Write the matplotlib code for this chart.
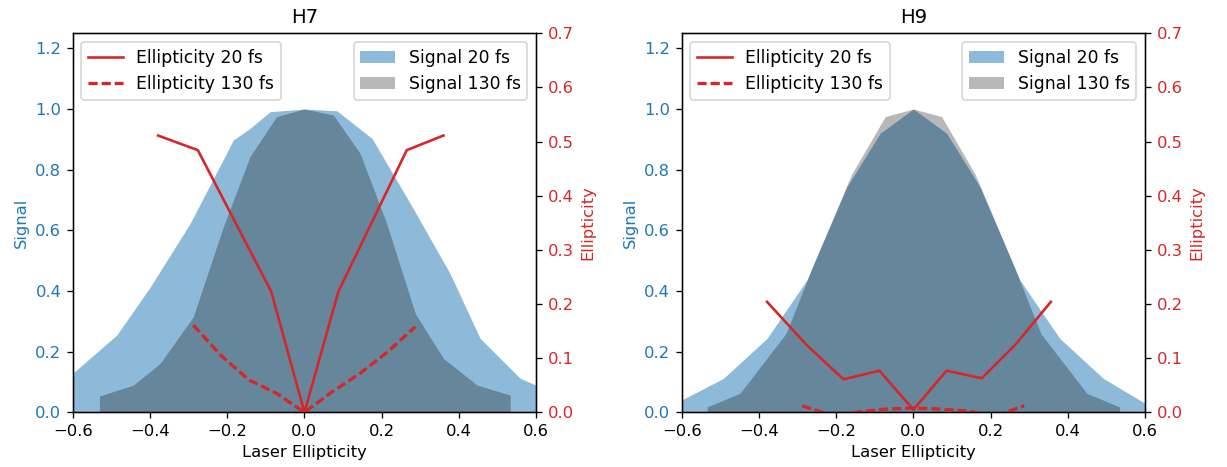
import numpy as np
import matplotlib
matplotlib.use("Agg")
import matplotlib.pyplot as plt

# ---- H7 data ----
h7_sig20_x = [-0.64, -0.6, -0.486, -0.399, -0.296, -0.184, -0.141, -0.089, 0.0,
              0.084, 0.175, 0.274, 0.377, 0.455, 0.559, 0.6, 0.64]
h7_sig20_y = [0.08, 0.129, 0.255, 0.414, 0.623, 0.898, 0.936, 0.991, 1.0,
              0.994, 0.903, 0.689, 0.458, 0.244, 0.112, 0.09, 0.06]
h7_sig130_x = [-0.531, -0.443, -0.374, -0.288, -0.21, -0.141, -0.072, 0.0,
               0.075, 0.144, 0.213, 0.287, 0.36, 0.447, 0.533]
h7_sig130_y = [0.054, 0.09, 0.161, 0.315, 0.612, 0.843, 0.975, 1.0,
               0.98, 0.854, 0.623, 0.326, 0.178, 0.09, 0.057]
h7_ell20_x = [-0.379, -0.276, -0.086, 0.0, 0.088, 0.265, 0.36]
h7_ell20_y = [0.511, 0.484, 0.223, 0.0, 0.223, 0.484, 0.511]
h7_ell130_x = [-0.288, -0.216, -0.144, -0.072, 0.0, 0.072, 0.144, 0.216, 0.287]
h7_ell130_y = [0.161, 0.105, 0.060, 0.035, 0.0, 0.038, 0.072, 0.112, 0.158]

# ---- H9 data ----
h9_sig20_x = [-0.64, -0.6, -0.492, -0.379, -0.276, -0.172, -0.086, 0.0,
              0.086, 0.172, 0.276, 0.379, 0.492, 0.6, 0.64]
h9_sig20_y = [0.02, 0.041, 0.112, 0.244, 0.436, 0.744, 0.92, 1.0,
              0.92, 0.744, 0.436, 0.244, 0.112, 0.03, 0.02]
h9_sig130_x = [-0.534, -0.449, -0.33, -0.258, -0.16, -0.073, 0.0,
               0.073, 0.16, 0.258, 0.33, 0.449, 0.534]
h9_sig130_y = [0.018, 0.063, 0.26, 0.49, 0.785, 0.975, 1.0,
               0.975, 0.785, 0.49, 0.26, 0.063, 0.018]
h9_ell20_x = [-0.379, -0.276, -0.181, -0.088, 0.0, 0.086, 0.177, 0.263, 0.356]
h9_ell20_y = [0.204, 0.124, 0.061, 0.077, 0.005, 0.077, 0.063, 0.124, 0.204]
h9_ell130_x = [-0.288, -0.21, -0.14, -0.072, 0.0, 0.072, 0.144, 0.213, 0.287]
h9_ell130_y = [0.012, -0.006, 0.001, 0.006, 0.008, 0.006, 0.002, -0.006, 0.012]

panels = [
    ("H7", h7_sig20_x, h7_sig20_y, h7_sig130_x, h7_sig130_y,
     h7_ell20_x, h7_ell20_y, h7_ell130_x, h7_ell130_y),
    ("H9", h9_sig20_x, h9_sig20_y, h9_sig130_x, h9_sig130_y,
     h9_ell20_x, h9_ell20_y, h9_ell130_x, h9_ell130_y),
]

# original looks like a default-style figure blown up ~1.18x
dpi = 118
fig = plt.figure(figsize=(1227 / dpi, 467 / dpi), dpi=dpi)
lefts = [0.0593, 0.5556]

for left, (name, s20x, s20y, s130x, s130y, e20x, e20y, e130x, e130y) in zip(lefts, panels):
    ax = fig.add_axes([left, 0.117, 0.3776, 0.812])
    ax.fill_between(s20x, s20y, color='tab:blue', alpha=0.5, lw=0, label='Signal 20 fs')
    ax.fill_between(s130x, s130y, color='k', alpha=0.28, lw=0, label='Signal 130 fs')
    ax.set_xlim(-0.6, 0.6)
    ax.set_ylim(0, 1.25)
    ax.set_xlabel('Laser Ellipticity')
    ax.set_ylabel('Signal', color='tab:blue')
    ax.tick_params(axis='y', labelcolor='tab:blue')
    ax.set_title(name)
    ax.legend(loc='upper right', fontsize=10.5)

    ax2 = ax.twinx()
    ax2.plot(e20x, e20y, color='tab:red', ls='-', lw=1.6, label='Ellipticity 20 fs')
    ax2.plot(e130x, e130y, color='tab:red', ls='--', lw=2, dashes=(2.8, 1.2),
             label='Ellipticity 130 fs')
    ax2.set_ylim(0, 0.7)
    ax2.set_ylabel('Ellipticity', color='tab:red')
    ax2.tick_params(axis='y', labelcolor='tab:red')
    ax2.legend(loc='upper left', fontsize=10.5)

fig.savefig('out.png', dpi=dpi)
